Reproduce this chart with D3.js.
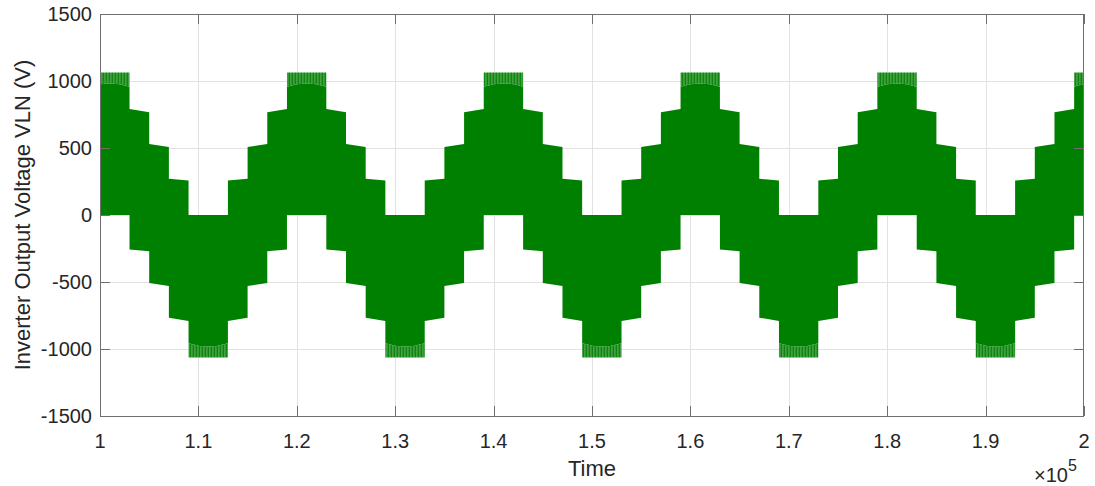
<!DOCTYPE html>
<html>
<head>
<meta charset="utf-8">
<script src="https://cdn.jsdelivr.net/npm/d3@7"></script>
<style>
  html, body { margin: 0; padding: 0; background: #ffffff; }
  svg { display: block; }
  text { font-family: "Liberation Sans", Arial, Helvetica, sans-serif; fill: #262626; }
</style>
</head>
<body>
<svg id="chart" width="1095" height="486"></svg>
<script>
// ---- axis ticks ----
const xTicks = [100000, 110000, 120000, 130000, 140000, 150000, 160000, 170000, 180000, 190000, 200000];
const xTickLabels = ["1", "1.1", "1.2", "1.3", "1.4", "1.5", "1.6", "1.7", "1.8", "1.9", "2"];
const yTicks = [-1500, -1000, -500, 0, 500, 1000, 1500];
const yTickLabels = ["-1500", "-1000", "-500", "0", "500", "1000", "1500"];

// ---- staircase switching edges (sample index) ----
const stepEdges = [
  99000,
  103000, 105000, 107000, 109000, 113000, 115000, 117000, 119000,
  123000, 125000, 127000, 129000, 133000, 135000, 137000, 139000,
  143000, 145000, 147000, 149000, 153000, 155000, 157000, 159000,
  163000, 165000, 167000, 169000, 173000, 175000, 177000, 179000,
  183000, 185000, 187000, 189000, 193000, 195000, 197000, 199000,
  203000
];
// upper voltage level index held in each interval between edges
const upperLevel = [
  4,
  3, 2, 1, 0, 1, 2, 3, 4,
  3, 2, 1, 0, 1, 2, 3, 4,
  3, 2, 1, 0, 1, 2, 3, 4,
  3, 2, 1, 0, 1, 2, 3, 4,
  3, 2, 1, 0, 1, 2, 3, 4
];
// envelope height of each level (V): lower and upper end of its tilt
const levelLow  = [0, 257, 507, 766, 958];
const levelHigh = [0, 270, 530, 791, 982];
// top of the switching ripple on the peak level (V)
const peakRipple = 1064;

const plot = { left: 100, right: 1084, top: 14, bottom: 416 };

const svg = d3.select("#chart");
const x = d3.scaleLinear().domain([100000, 200000]).range([plot.left, plot.right]);
const y = d3.scaleLinear().domain([-1500, 1500]).range([plot.bottom, plot.top]);

const defs = svg.append("defs");
defs.append("clipPath").attr("id", "plotClip")
  .append("rect")
  .attr("x", plot.left).attr("y", plot.top)
  .attr("width", plot.right - plot.left).attr("height", plot.bottom - plot.top);

// fine vertical striping of the PWM pulses on the peaks
const pat = defs.append("pattern")
  .attr("id", "ripple").attr("patternUnits", "userSpaceOnUse")
  .attr("width", 3).attr("height", 12);
pat.append("rect").attr("width", 3).attr("height", 12).attr("fill", "#4aa24a");
pat.append("rect").attr("x", 0.6).attr("width", 1.5).attr("height", 12).attr("fill", "#0b870b");

// ---- grid ----
const grid = svg.append("g").attr("stroke", "#e2e2e2").attr("stroke-width", 1);
grid.selectAll("line.gx").data(xTicks.slice(1, -1)).join("line")
  .attr("x1", d => Math.round(x(d)) + 0.5).attr("x2", d => Math.round(x(d)) + 0.5)
  .attr("y1", plot.top).attr("y2", plot.bottom);
grid.selectAll("line.gy").data(yTicks.slice(1, -1)).join("line")
  .attr("y1", d => Math.round(y(d)) + 0.5).attr("y2", d => Math.round(y(d)) + 0.5)
  .attr("x1", plot.left).attr("x2", plot.right);

// ---- envelope values for one interval ----
function descending(i) {
  const k = upperLevel[i];
  if (i > 0) return upperLevel[i - 1] > k;
  return upperLevel[i + 1] < k;
}
function upperEdge(i) {
  const k = upperLevel[i];
  if (k === 4) return { a: levelLow[4], m: levelHigh[4], b: levelLow[4], dome: true };
  if (k === 0) return { a: 0, b: 0, dome: false };
  return descending(i)
    ? { a: levelHigh[k], b: levelLow[k], dome: false }
    : { a: levelLow[k], b: levelHigh[k], dome: false };
}
function lowerEdge(i) {
  const j = 4 - upperLevel[i];
  if (j === 4) return { a: -levelLow[4], m: -levelHigh[4], b: -levelLow[4], dome: true };
  if (j === 0) return { a: 0, b: 0, dome: false };
  return descending(i)
    ? { a: -levelLow[j], b: -levelHigh[j], dome: false }
    : { a: -levelHigh[j], b: -levelLow[j], dome: false };
}

// ---- band between upper and lower envelopes ----
const band = d3.path();
const n = upperLevel.length;
for (let i = 0; i < n; i++) {
  const t0 = stepEdges[i], t1 = stepEdges[i + 1];
  const e = upperEdge(i);
  if (i === 0) band.moveTo(x(t0), y(e.a)); else band.lineTo(x(t0), y(e.a));
  if (e.dome) band.quadraticCurveTo(x((t0 + t1) / 2), y(2 * e.m - e.a), x(t1), y(e.b));
  else band.lineTo(x(t1), y(e.b));
}
for (let i = n - 1; i >= 0; i--) {
  const t0 = stepEdges[i], t1 = stepEdges[i + 1];
  const e = lowerEdge(i);
  band.lineTo(x(t1), y(e.b));
  if (e.dome) band.quadraticCurveTo(x((t0 + t1) / 2), y(2 * e.m - e.b), x(t0), y(e.a));
  else band.lineTo(x(t0), y(e.a));
}
band.closePath();

const data = svg.append("g").attr("clip-path", "url(#plotClip)");

// switching ripple on the positive and negative peaks
const ripple = d3.path();
for (let i = 0; i < n; i++) {
  const k = upperLevel[i];
  if (k !== 4 && k !== 0) continue;
  const t0 = stepEdges[i], t1 = stepEdges[i + 1];
  const s = k === 4 ? 1 : -1;
  ripple.moveTo(x(t0), y(s * levelLow[4]));
  ripple.quadraticCurveTo(x((t0 + t1) / 2), y(s * (2 * levelHigh[4] - levelLow[4])), x(t1), y(s * levelLow[4]));
  ripple.lineTo(x(t1), y(s * peakRipple));
  ripple.lineTo(x(t0), y(s * peakRipple));
  ripple.closePath();
}
data.append("path").attr("d", ripple.toString()).attr("fill", "url(#ripple)");
data.append("path").attr("d", band.toString()).attr("fill", "#008000");

// ---- axes box and ticks ----
const axes = svg.append("g").attr("stroke", "#6f6f6f").attr("stroke-width", 1).attr("fill", "none");
axes.append("rect")
  .attr("x", plot.left + 0.5).attr("y", plot.top + 0.5)
  .attr("width", plot.right - plot.left - 1).attr("height", plot.bottom - plot.top);
const tickLen = 10;
xTicks.forEach(t => {
  const px = Math.round(x(t)) + 0.5;
  axes.append("line").attr("x1", px).attr("x2", px).attr("y1", plot.bottom).attr("y2", plot.bottom - tickLen);
  axes.append("line").attr("x1", px).attr("x2", px).attr("y1", plot.top).attr("y2", plot.top + tickLen);
});
yTicks.forEach(v => {
  const py = Math.round(y(v)) + 0.5;
  axes.append("line").attr("x1", plot.left).attr("x2", plot.left + tickLen).attr("y1", py).attr("y2", py);
  axes.append("line").attr("x1", plot.right).attr("x2", plot.right - tickLen).attr("y1", py).attr("y2", py);
});

// ---- tick labels ----
svg.append("g").selectAll("text").data(xTicks).join("text")
  .attr("x", d => x(d)).attr("y", 448)
  .attr("text-anchor", "middle").attr("font-size", 20)
  .text((d, i) => xTickLabels[i]);
svg.append("g").selectAll("text").data(yTicks).join("text")
  .attr("x", 92).attr("y", d => y(d) + 7)
  .attr("text-anchor", "end").attr("font-size", 20)
  .text((d, i) => yTickLabels[i]);

// exponent of the x axis
const expo = svg.append("text").attr("x", 1034).attr("y", 482).attr("font-size", 20);
expo.append("tspan").text("\u00d710");
expo.append("tspan").attr("font-size", 16).attr("dy", -11).text("5");

// ---- axis titles ----
svg.append("text")
  .attr("x", (plot.left + plot.right) / 2).attr("y", 476)
  .attr("text-anchor", "middle").attr("font-size", 22)
  .text("Time");
svg.append("text")
  .attr("transform", `translate(30,${(plot.top + plot.bottom) / 2}) rotate(-90)`)
  .attr("text-anchor", "middle").attr("font-size", 22)
  .text("Inverter Output Voltage VLN (V)");
</script>
</body>
</html>
